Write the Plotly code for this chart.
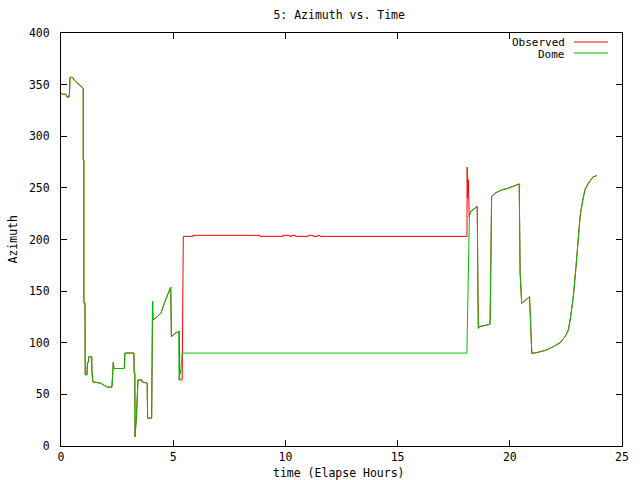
import plotly.graph_objects as go

# ---- data (hours, azimuth degrees) ----
# Shared start segment (both series nearly identical)
start_hours = [0.00, 0.09, 0.22, 0.27, 0.36, 0.38, 0.40, 0.52, 0.58, 0.74, 0.85, 0.94, 0.99, 0.99, 1.02, 1.02,
               1.07, 1.08, 1.16, 1.18, 1.22, 1.24, 1.37, 1.38, 1.42, 1.75, 1.98, 2.07, 2.27, 2.29, 2.33, 2.36,
               2.82, 2.85, 3.25, 3.26, 3.29, 3.30, 3.33, 3.36, 3.43, 3.60, 3.62, 3.84, 3.86, 4.04, 4.08, 4.10,
               4.28, 4.46, 4.60, 4.74, 4.87, 4.89, 4.92, 5.08, 5.25]
start_az = [341.6, 340.6, 340.6, 338.0, 338.0, 342.0, 357.0, 357.0, 354.5, 351.3, 349.6, 347.4, 346.4, 277.0, 277.0, 138.5,
            138.5, 69.0, 69.0, 81.0, 81.0, 86.5, 86.5, 72.0, 62.0, 61.0, 58.0, 57.0, 57.0, 71.0, 81.0, 75.0,
            75.0, 90.0, 90.0, 71.0, 71.0, 9.0, 28.0, 28.0, 64.0, 64.0, 62.0, 61.0, 27.0, 27.0, 140.0, 122.0,
            125.0, 129.0, 138.0, 146.0, 154.0, 154.0, 106.0, 109.0, 111.0]

# Observed middle segment
obs_mid_hours = [5.27, 5.29, 5.40, 5.45, 5.87, 5.87, 8.87, 8.87, 9.89, 9.89, 10.20, 10.20, 10.28, 10.28,
                 10.46, 10.46, 11.02, 11.02, 11.24, 11.24, 11.44, 11.44, 11.54, 11.54, 18.09, 18.10, 18.12,
                 18.15, 18.17, 18.19]
obs_mid_az = [111.0, 64.0, 64.0, 203.0, 203.0, 204.0, 204.0, 203.0, 203.0, 204.0, 204.0, 203.0, 203.0, 204.0,
              204.0, 203.0, 203.0, 204.0, 204.0, 203.0, 203.0, 204.0, 204.0, 203.0, 203.0, 270.0, 240.0,
              258.0, 235.0, 222.0]

# Dome middle segment
dome_mid_hours = [5.26, 5.30, 5.33, 5.40, 18.09, 18.10, 18.12, 18.14, 18.18, 18.20]
dome_mid_az = [64.0, 74.0, 70.0, 90.0, 90.0, 104.6, 136.6, 167.5, 202.0, 224.0]

# Shared end segment
end_hours = [18.25, 18.40, 18.52, 18.55, 18.58, 18.60, 18.65, 19.00, 19.12, 19.14, 19.19, 19.34, 19.63,
             19.92, 20.30, 20.42, 20.46, 20.53, 20.88, 20.98, 21.20, 21.64, 21.94, 22.24, 22.46, 22.61,
             22.71, 22.83, 22.95, 23.05, 23.13, 23.25, 23.35, 23.50, 23.72, 23.87]
end_az = [227.0, 230.0, 232.0, 232.0, 145.0, 114.0, 115.6, 117.8, 117.8, 149.0, 241.5, 244.7, 248.0,
          249.6, 252.8, 253.8, 167.5, 138.2, 144.6, 89.8, 90.4, 93.0, 96.2, 100.0, 105.9, 112.3,
          125.2, 144.6, 173.7, 199.5, 222.0, 238.0, 248.0, 254.4, 260.8, 261.8]

x_ticks = [0, 5, 10, 15, 20, 25]
y_ticks = [0, 50, 100, 150, 200, 250, 300, 350, 400]

obs_hours = start_hours + obs_mid_hours + end_hours
obs_az = start_az + obs_mid_az + end_az
dome_hours = start_hours + dome_mid_hours + end_hours
dome_az = start_az + dome_mid_az + end_az

FONT = "DejaVu Sans Mono"
FS = 11.5
RED = "#ff0000"
GREEN = "#00c000"

fig = go.Figure()
fig.add_trace(go.Scatter(x=obs_hours, y=obs_az, mode="lines", name="Observed",
                         line=dict(color=RED, width=1)))
fig.add_trace(go.Scatter(x=dome_hours, y=dome_az, mode="lines", name="Dome",
                         line=dict(color=GREEN, width=1)))

axis_common = dict(showgrid=False, zeroline=False, showline=True, linecolor="black", linewidth=1,
                   mirror="ticks", ticks="inside", ticklen=6, tickcolor="black", tickwidth=1,
                   automargin=False,
                   tickfont=dict(family=FONT, size=FS, color="black"))

fig.update_xaxes(range=[0, 25], tickvals=x_ticks, ticktext=[str(v) for v in x_ticks],
                 ticklabelstandoff=0, **axis_common)
fig.update_yaxes(range=[0, 400], tickvals=y_ticks, ticktext=[str(v) for v in y_ticks],
                 ticklabelstandoff=8, **axis_common)

# axis titles as annotations (exact placement)
fig.add_annotation(xref="paper", yref="paper", x=0.4955, y=-0.0665, text="time (Elapse Hours)",
                   showarrow=False, xanchor="center", yanchor="middle", borderpad=0,
                   font=dict(family=FONT, size=FS, color="black"))
fig.add_annotation(xref="paper", yref="paper", x=-0.0873, y=0.5, text="Azimuth", textangle=-90,
                   showarrow=False, xanchor="center", yanchor="middle",
                   font=dict(family=FONT, size=FS, color="black"))

# gnuplot-style legend: right-aligned labels with line samples to their right
legend_items = [("Observed", RED, 0.9782, 0.9782), ("Dome", GREEN, 0.9516, 0.9470)]
for label, color, ly, ty in legend_items:
    fig.add_annotation(xref="paper", yref="paper", x=0.9002, y=ty, text=label, showarrow=False,
                       xanchor="right", yanchor="middle", borderpad=0,
                       font=dict(family=FONT, size=11, color="black"))
    fig.add_shape(type="line", xref="paper", yref="paper", x0=0.9144, x1=0.9750, y0=ly, y1=ly,
                  line=dict(color=color, width=1))

fig.update_layout(
    width=640, height=480,
    margin=dict(l=61, r=18, t=33, b=34),
    paper_bgcolor="white", plot_bgcolor="white",
    showlegend=False,
    title=dict(text="5: Azimuth vs. Time", x=0.53, xanchor="center", y=0.969, yanchor="middle",
               font=dict(family=FONT, size=FS, color="black")),
)

fig.write_html("out.html", config={"displayModeBar": False},
               post_script="document.body.style.margin='0';")
